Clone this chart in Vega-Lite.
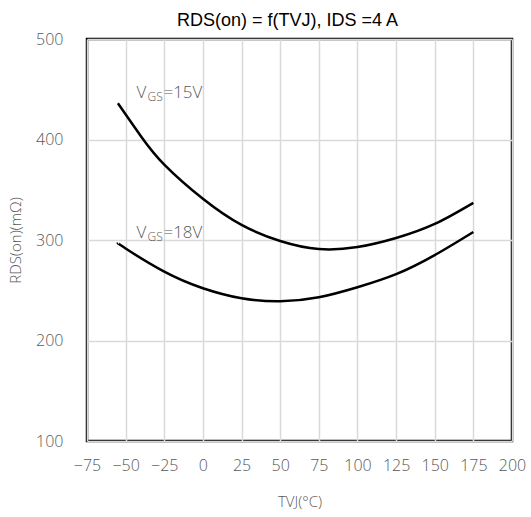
{
  "$schema": "https://vega.github.io/schema/vega-lite/v6.json",
  "width": 425,
  "height": 402,
  "autosize": {"type": "none"},
  "padding": {"left": 87, "top": 39, "right": 19, "bottom": 76},
  "background": "white",
  "title": {
    "text": "RDS(on) = f(TVJ), IDS =4 A",
    "font": "Liberation Sans",
    "fontSize": 18,
    "fontWeight": "normal",
    "color": "black",
    "anchor": "middle",
    "offset": 1,
    "dx": -12
  },
  "config": {
    "view": {"stroke": "black", "strokeWidth": 2.5},
    "axis": {
      "labelFont": "Open Sans",
      "labelFontWeight": 300,
      "labelFontSize": 16,
      "labelColor": "#595959",
      "titleFont": "Open Sans",
      "titleFontWeight": 300,
      "titleFontSize": 15,
      "titleColor": "#595959",
      "domain": false,
      "ticks": false,
      "gridColor": "#d9d9d9",
      "gridWidth": 1.5,
      "labelOverlap": false,
      "labelFlush": false,
      "labelBound": false
    }
  },
  "datasets": {
    "curves": [
      {"t": -55, "r": 436, "s": "15V"},
      {"t": -40, "r": 403, "s": "15V"},
      {"t": -25, "r": 375, "s": "15V"},
      {"t": 0, "r": 341, "s": "15V"},
      {"t": 25, "r": 315, "s": "15V"},
      {"t": 50, "r": 299, "s": "15V"},
      {"t": 75, "r": 291, "s": "15V"},
      {"t": 100, "r": 293, "s": "15V"},
      {"t": 125, "r": 302, "s": "15V"},
      {"t": 150, "r": 316, "s": "15V"},
      {"t": 175, "r": 337, "s": "15V"},
      {"t": -55, "r": 297, "s": "18V"},
      {"t": -50, "r": 291.5, "s": "18V"},
      {"t": -25, "r": 268.5, "s": "18V"},
      {"t": 0, "r": 252, "s": "18V"},
      {"t": 25, "r": 242, "s": "18V"},
      {"t": 50, "r": 239, "s": "18V"},
      {"t": 75, "r": 243, "s": "18V"},
      {"t": 100, "r": 253, "s": "18V"},
      {"t": 125, "r": 266, "s": "18V"},
      {"t": 150, "r": 285, "s": "18V"},
      {"t": 175, "r": 308, "s": "18V"}
    ],
    "labels": [
      {"t": -43, "r": 441, "v": "V", "sub": "GS", "rest": "=15V"},
      {"t": -43, "r": 302, "v": "V", "sub": "GS", "rest": "=18V"}
    ]
  },
  "encoding": {
    "x": {
      "field": "t", "type": "quantitative",
      "scale": {"domain": [-75, 200], "nice": false},
      "axis": {"values": [-75, -50, -25, 0, 25, 50, 75, 100, 125, 150, 175, 200], "tickCount": 12, "labelPadding": 16, "title": "TVJ(°C)", "titlePadding": 21}
    },
    "y": {
      "field": "r", "type": "quantitative",
      "scale": {"domain": [100, 500], "nice": false, "zero": false},
      "axis": {"values": [100, 200, 300, 400, 500], "labelPadding": 24, "title": "RDS(on)(mΩ)", "titlePadding": 12}
    }
  },
  "layer": [
    {
      "data": {"name": "curves"},
      "mark": {"type": "line", "color": "black", "strokeWidth": 2.5, "interpolate": "natural"},
      "encoding": {"detail": {"field": "s"}}
    },
    {
      "data": {"name": "labels"},
      "mark": {"type": "text", "align": "left", "baseline": "alphabetic", "font": "Open Sans", "fontWeight": 300, "fontSize": 17, "color": "#595959"},
      "encoding": {"text": {"field": "v"}}
    },
    {
      "data": {"name": "labels"},
      "mark": {"type": "text", "align": "left", "baseline": "alphabetic", "font": "Open Sans", "fontWeight": 300, "fontSize": 12, "color": "#595959", "dx": 11, "dy": 3},
      "encoding": {"text": {"field": "sub"}}
    },
    {
      "data": {"name": "labels"},
      "mark": {"type": "text", "align": "left", "baseline": "alphabetic", "font": "Open Sans", "fontWeight": 300, "fontSize": 17, "color": "#595959", "dx": 27},
      "encoding": {"text": {"field": "rest"}}
    }
  ]
}
